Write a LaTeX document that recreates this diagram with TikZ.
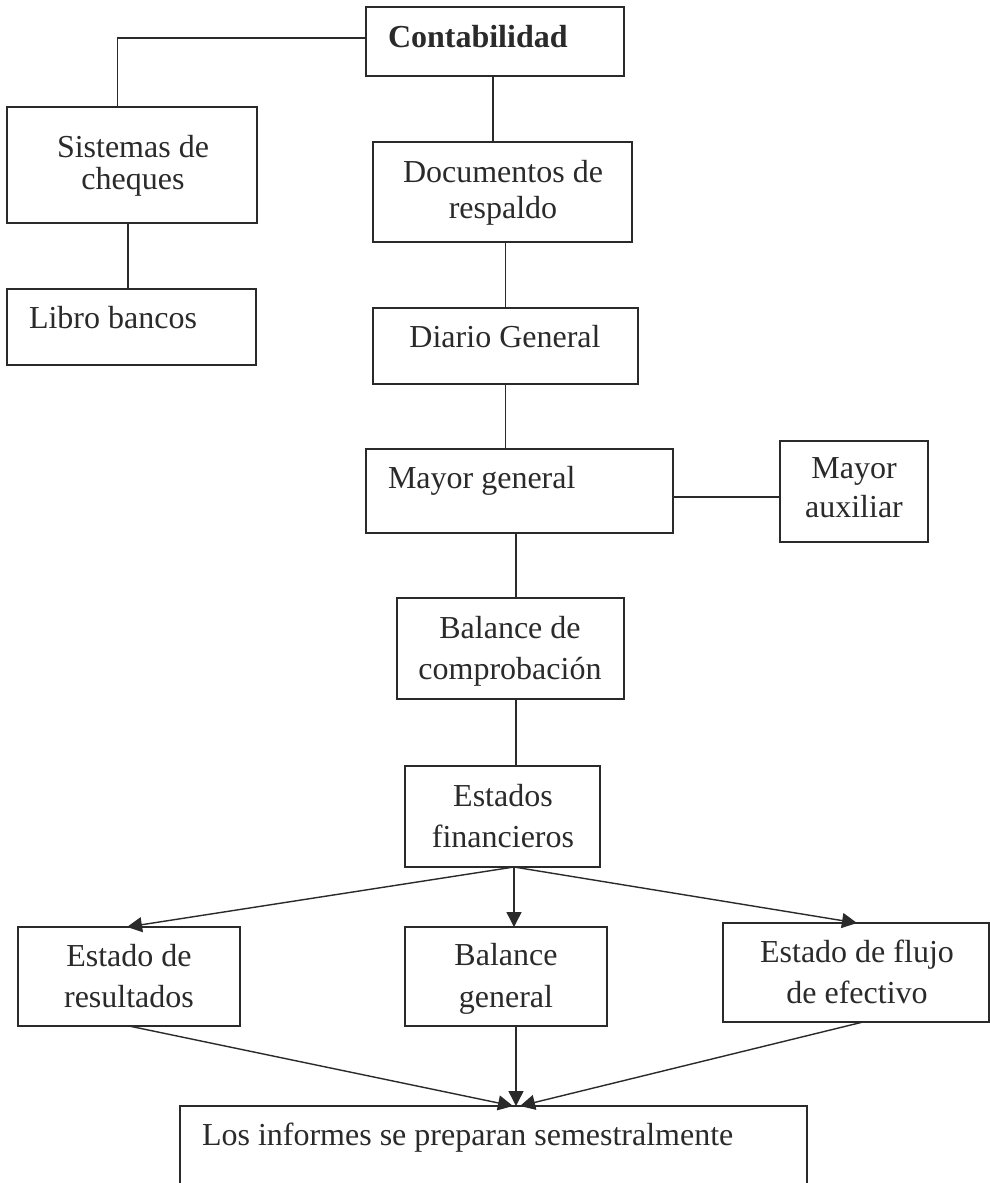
\documentclass[tikz,border=0pt]{standalone}
\usepackage{fontspec}
\setmainfont{Liberation Serif}
\usetikzlibrary{arrows.meta,calc}
\definecolor{ink}{HTML}{2A2A2A}
\tikzset{
  box/.style={draw=ink, line width=1.4pt, rectangle, inner sep=0pt, outer sep=0pt},
  lbl/.style={inner sep=0pt, outer sep=0pt, text=ink, font=\fontsize{32}{38}\selectfont},
  link/.style={draw=ink, line width=1.4pt},
  arr/.style={link, -{Triangle[length=15pt,width=15pt]}}
}
\begin{document}
\begin{tikzpicture}[x=1pt,y=-1pt]
\useasboundingbox[fill=white] (0,0) rectangle (990,1183);
\clip (0,0) rectangle (990,1183);
% boxes
\node[box, minimum width=258pt, minimum height=69pt]  (cont)   at (495,41.5) {};
\node[box, minimum width=250pt, minimum height=116pt] (sist)   at (132,165) {};
\node[box, minimum width=249pt, minimum height=76pt]  (libro)  at (131.5,327) {};
\node[box, minimum width=259pt, minimum height=100pt] (docs)   at (502.5,192) {};
\node[box, minimum width=265pt, minimum height=76pt]  (diario) at (505.5,346) {};
\node[box, minimum width=307pt, minimum height=84pt]  (mayor)  at (519.5,491) {};
\node[box, minimum width=148pt, minimum height=101pt] (aux)    at (854,491.5) {};
\node[box, minimum width=227pt, minimum height=101pt] (bal)    at (510.5,648.5) {};
\node[box, minimum width=195pt, minimum height=101pt] (est)    at (502.5,816.5) {};
\node[box, minimum width=222pt, minimum height=99pt]  (res)    at (129,976.5) {};
\node[box, minimum width=202pt, minimum height=99pt]  (bg)     at (506,976.5) {};
\node[box, minimum width=266pt, minimum height=99pt]  (flujo)  at (856,972.5) {};
\node[box, minimum width=627pt, minimum height=120pt] (inf)    at (493.5,1166) {};
% texts
\node[lbl, anchor=base west] (tcont) at (388,47) {\bfseries Contabilidad};
\node[lbl, anchor=base] (tsist1) at (133,157) {Sistemas de};
\node[lbl, anchor=base] (tsist2) at (133,189) {cheques};
\node[lbl, anchor=base west] (tlibro) at (29,328) {Libro bancos};
\node[lbl, anchor=base] (tdocs1) at (503,182) {Documentos de};
\node[lbl, anchor=base] (tdocs2) at (503,218) {respaldo};
\node[lbl, anchor=base] (tdiario) at (505,347) {Diario General};
\node[lbl, anchor=base west] (tmayor) at (388,488) {Mayor general};
\node[lbl, anchor=base] (taux1) at (854,478) {Mayor};
\node[lbl, anchor=base] (taux2) at (854,517) {auxiliar};
\node[lbl, anchor=base] (tbal1) at (510,638) {Balance de};
\node[lbl, anchor=base] (tbal2) at (510,679) {comprobación};
\node[lbl, anchor=base] (test1) at (503,806) {Estados};
\node[lbl, anchor=base] (test2) at (503,847) {financieros};
\node[lbl, anchor=base] (tres1) at (129,966) {Estado de};
\node[lbl, anchor=base] (tres2) at (129,1007) {resultados};
\node[lbl, anchor=base] (tbg1) at (506,965) {Balance};
\node[lbl, anchor=base] (tbg2) at (506,1007) {general};
\node[lbl, anchor=base] (tfl1) at (857,962) {Estado de flujo};
\node[lbl, anchor=base] (tfl2) at (857,1003) {de efectivo};
\node[lbl, anchor=base west] (tinf) at (202,1145) {Los informes se preparan semestralmente};
% plain connectors
\draw[link] ([yshift=3.5pt]cont.west) -| ([xshift=-14.5pt]sist.north);
\draw[link] ([xshift=-2pt]cont.south) -- ([xshift=-2pt]cont.south |- docs.north);
\draw[link] ([xshift=-4pt]sist.south) -- ([xshift=-4pt]sist.south |- libro.north);
\draw[link] (diario.north |- docs.south) -- (diario.north);
\draw[link] (diario.south) -- (diario.south |- mayor.north);
\draw[link] ([yshift=-6pt]mayor.east) -- ([yshift=-6pt]mayor.east -| aux.west);
\draw[link] ([xshift=-3.5pt]mayor.south) -- ([xshift=-3.5pt]mayor.south |- bal.north);
\draw[link] ([xshift=5.5pt]bal.south) -- ([xshift=5.5pt]bal.south |- est.north);
% arrows
\coordinate (hub) at ([xshift=11.5pt]est.south);
\draw[arr] (hub) -- ([xshift=-2pt]res.north);
\draw[arr] (hub) -- (hub |- bg.north);
\draw[arr] (hub) -- ([xshift=1pt]flujo.north);
\coordinate (sink) at ([xshift=22.5pt]inf.north);
\draw[arr] (res.south) -- ([xshift=-3pt]sink);
\draw[arr] ([xshift=10pt]bg.south) -- (sink);
\draw[arr] ([xshift=7pt]flujo.south) -- ([xshift=4pt]sink);
\end{tikzpicture}
\end{document}
